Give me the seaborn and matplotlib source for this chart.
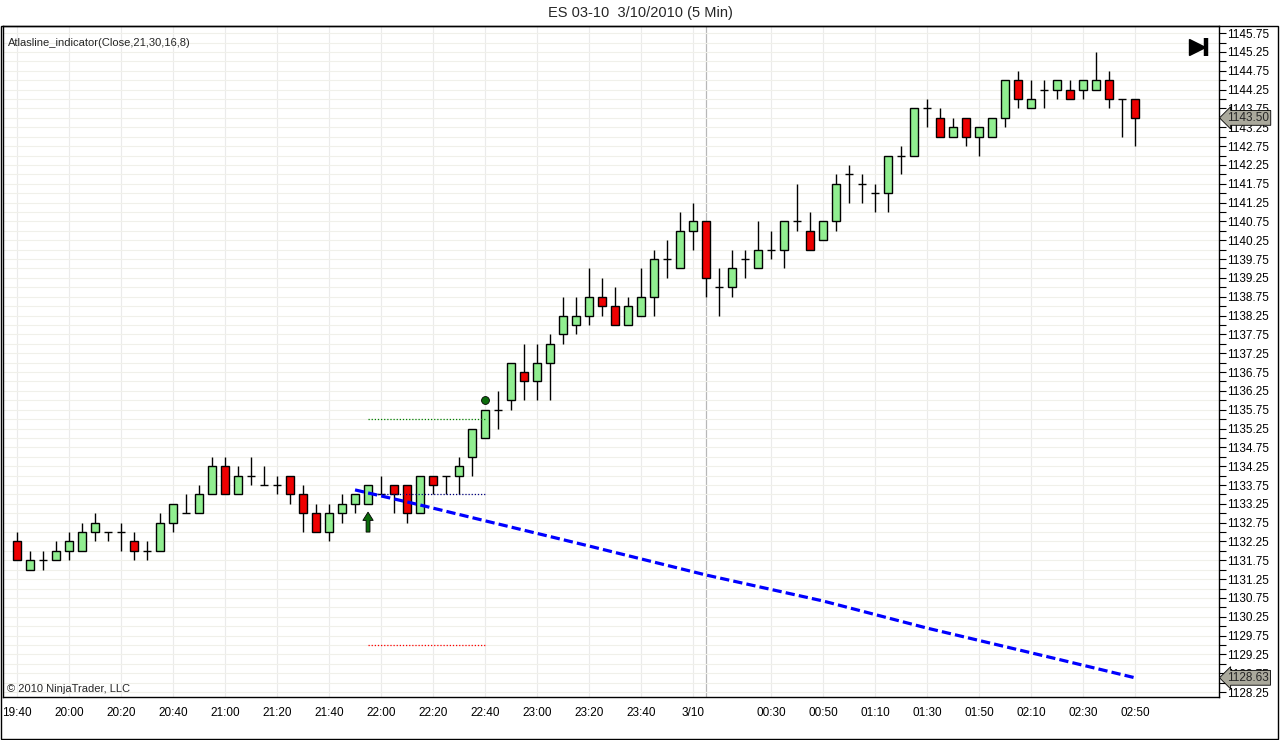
import numpy as np
import pandas as pd
import seaborn as sns
import matplotlib.pyplot as plt
from matplotlib.patches import Rectangle
from matplotlib.ticker import MultipleLocator, FuncFormatter

# 5 min bars, 19:40 -> 02:50
opens = [1132.25, 1131.5, 1131.75, 1131.75, 1132.0, 1132.0, 1132.5, 1132.5, 1132.5, 1132.25,
         1132.0, 1132.0, 1132.75, 1133.0, 1133.0, 1133.5, 1134.25, 1133.5, 1134.0, 1133.75,
         1133.75, 1134.0, 1133.5, 1133.0, 1132.5, 1133.0, 1133.25, 1133.25, 1133.5, 1133.75,
         1133.75, 1133.0, 1134.0, 1134.0, 1134.0, 1134.5, 1135.0, 1135.75, 1136.0, 1136.75,
         1136.5, 1137.0, 1137.75, 1138.0, 1138.25, 1138.75, 1138.5, 1138.0, 1138.25, 1138.75,
         1139.75, 1139.5, 1140.5, 1140.75, 1139.0, 1139.0, 1139.75, 1139.5, 1140.0, 1140.0,
         1140.75, 1140.5, 1140.25, 1140.75, 1142.0, 1141.75, 1141.5, 1141.5, 1142.5, 1142.5,
         1143.75, 1143.5, 1143.0, 1143.5, 1143.0, 1143.0, 1143.5, 1144.5, 1143.75, 1144.25,
         1144.25, 1144.25, 1144.25, 1144.25, 1144.5, 1144.0, 1144.0]
highs = [1132.5, 1132.0, 1132.0, 1132.25, 1132.5, 1132.75, 1133.0, 1132.5, 1132.75, 1132.5,
         1132.25, 1133.0, 1133.25, 1133.5, 1133.75, 1134.5, 1134.5, 1134.25, 1134.5, 1134.25,
         1134.0, 1134.0, 1133.75, 1133.25, 1133.25, 1133.5, 1133.5, 1133.75, 1134.0, 1133.75,
         1133.75, 1134.0, 1134.0, 1134.0, 1134.5, 1135.25, 1135.75, 1136.25, 1137.0, 1137.5,
         1137.5, 1137.75, 1138.75, 1138.75, 1139.5, 1139.25, 1139.0, 1138.75, 1139.5, 1140.0,
         1140.25, 1141.0, 1141.25, 1140.75, 1139.5, 1140.0, 1140.0, 1140.75, 1140.5, 1140.75,
         1141.75, 1141.0, 1140.75, 1142.0, 1142.25, 1142.0, 1141.75, 1142.5, 1142.75, 1143.75,
         1144.0, 1143.75, 1143.5, 1143.5, 1143.25, 1143.5, 1144.5, 1144.75, 1144.5, 1144.5,
         1144.5, 1144.5, 1144.5, 1145.25, 1144.75, 1144.0, 1144.0]
lows = [1131.75, 1131.5, 1131.5, 1131.75, 1131.75, 1132.0, 1132.25, 1132.25, 1132.0, 1131.75,
        1131.75, 1132.0, 1132.5, 1133.0, 1133.0, 1133.5, 1133.5, 1133.5, 1133.75, 1133.75,
        1133.5, 1133.25, 1132.5, 1132.5, 1132.25, 1132.75, 1133.0, 1133.25, 1133.5, 1133.0,
        1132.75, 1133.0, 1133.5, 1133.5, 1133.5, 1134.0, 1135.0, 1135.25, 1135.75, 1136.0,
        1136.0, 1136.0, 1137.5, 1137.75, 1138.0, 1138.25, 1138.0, 1138.0, 1138.25, 1138.25,
        1139.25, 1139.5, 1140.0, 1138.75, 1138.25, 1138.75, 1139.25, 1139.5, 1139.75, 1139.5,
        1140.5, 1140.0, 1140.25, 1140.5, 1141.25, 1141.25, 1141.0, 1141.0, 1142.0, 1142.5,
        1143.25, 1143.0, 1143.0, 1142.75, 1142.5, 1143.0, 1143.25, 1143.75, 1143.75, 1143.75,
        1144.0, 1144.0, 1144.0, 1144.25, 1143.75, 1143.0, 1142.75]
closes = [1131.75, 1131.75, 1131.75, 1132.0, 1132.25, 1132.5, 1132.75, 1132.5, 1132.5, 1132.0,
          1132.0, 1132.75, 1133.25, 1133.0, 1133.5, 1134.25, 1133.5, 1134.0, 1134.0, 1133.75,
          1133.75, 1133.5, 1133.0, 1132.5, 1133.0, 1133.25, 1133.5, 1133.75, 1133.5, 1133.5,
          1133.0, 1134.0, 1133.75, 1134.0, 1134.25, 1135.25, 1135.75, 1135.75, 1137.0, 1136.5,
          1137.0, 1137.5, 1138.25, 1138.25, 1138.75, 1138.5, 1138.0, 1138.5, 1138.75, 1139.75,
          1139.75, 1140.5, 1140.75, 1139.25, 1139.0, 1139.5, 1139.75, 1140.0, 1140.0, 1140.75,
          1140.75, 1140.0, 1140.75, 1141.75, 1142.0, 1141.75, 1141.5, 1142.5, 1142.5, 1143.75,
          1143.75, 1143.0, 1143.25, 1143.0, 1143.25, 1143.5, 1144.5, 1144.0, 1144.0, 1144.25,
          1144.5, 1144.0, 1144.5, 1144.5, 1144.0, 1144.0, 1143.5]

# x axis labels (bar index -> label)
tick_bars = [0, 4, 8, 12, 16, 20, 24, 28, 32, 36, 40, 44, 48, 52, 58, 62, 66, 70, 74, 78, 82, 86]
tick_labels = ["19:40", "20:00", "20:20", "20:40", "21:00", "21:20", "21:40", "22:00", "22:20",
               "22:40", "23:00", "23:20", "23:40", "3/10", "00:30", "00:50", "01:10", "01:30",
               "01:50", "02:10", "02:30", "02:50"]
session_bar = 53

# Atlasline indicator (dashed blue line), read at a few bars
atlas_bars = [26, 31, 36, 44, 53, 62, 70, 80, 86]
atlas_values = [1133.62, 1133.22, 1132.80, 1132.13, 1131.36, 1130.67, 1129.95, 1129.13, 1128.63]

# signal markers / levels
signal_bar = 27
signal_end_bar = 36
target_level = 1135.5
entry_level = 1133.5
stop_level = 1129.5
dot_price = 1136.0
arrow_base, arrow_tip = 1132.5, 1133.03

df = pd.DataFrame({"open": opens, "high": highs, "low": lows, "close": closes})
df["bar"] = np.arange(len(df))

sns.set_style("white")
plt.rcParams["font.family"] = ["Liberation Sans", "DejaVu Sans"]

fig = plt.figure(figsize=(12.8, 7.4), dpi=100)
ax = fig.add_axes([3 / 1280, 43 / 740, 1216 / 1280, 671 / 740])

# grid
ax.set_xlim(-1.08, 92.46)
ax.set_ylim(1128.12, 1145.94)
ax.yaxis.set_major_locator(MultipleLocator(0.5, offset=0.25))
ax.yaxis.set_minor_locator(MultipleLocator(0.25))
ax.yaxis.set_major_formatter(FuncFormatter(lambda v, p: f"{v:.2f}"))
ax.set_xticks(tick_bars)
ax.set_xticklabels(tick_labels)
ax.set_axisbelow(True)
ax.grid(axis="y", which="both", color="#f0f0ea", lw=0.8)
ax.grid(axis="x", which="major", color="#ebebeb", lw=0.8)
ax.axvline(session_bar, color="#b8b8b8", lw=0.9, zorder=0.5)

# candles
w = 0.62
ax.vlines(df["bar"], df["low"], df["high"], color="black", lw=1, zorder=2)
body = df[df["open"] != df["close"]]
fill = np.where(body["close"] > body["open"], "#90ee90", "#ee0000")
ax.bar(body["bar"], (body["close"] - body["open"]).abs(), bottom=body[["open", "close"]].min(axis=1),
       width=w, color=fill, edgecolor="black", lw=1, zorder=3)
doji = df[df["open"] == df["close"]]
ax.hlines(doji["close"], doji["bar"] - w / 2, doji["bar"] + w / 2, color="black", lw=1, zorder=3)

# signal levels
ax.hlines(target_level, signal_bar, signal_end_bar, colors="green", linestyles=(0, (1, 1.5)), lw=0.9, zorder=4)
ax.hlines(entry_level, signal_bar, signal_end_bar, colors="#000080", linestyles=(0, (1, 1.5)), lw=0.9, zorder=4)
ax.hlines(stop_level, signal_bar, signal_end_bar, colors="red", linestyles=(0, (1, 1.5)), lw=0.9, zorder=4)
ax.arrow(signal_bar, arrow_base, 0, arrow_tip - arrow_base, width=0.3, head_width=0.8, head_length=0.22,
         length_includes_head=True, fc="#0b6b0b", ec="black", lw=0.6, zorder=5)
sns.scatterplot(x=[signal_end_bar], y=[dot_price], color="#0b6b0b", edgecolor="black", s=32,
                linewidth=0.6, ax=ax, zorder=5)

# atlasline
sns.lineplot(x=atlas_bars, y=atlas_values, ax=ax, color="#0000ff", lw=2.3, zorder=6)
ax.lines[-1].set_dashes([2.9, 1.3])

# axes styling
ax.yaxis.tick_right()
for s in ax.spines.values():
    s.set_color("black")
    s.set_linewidth(1)
ax.tick_params(axis="y", which="both", direction="out", length=5, width=0.8, colors="black",
               labelsize=8.5, pad=1, right=True, left=False)
ax.tick_params(axis="x", direction="out", length=5, width=0.8, colors="black", labelsize=8.5, pad=2)
ax.set_xlabel("")
ax.set_ylabel("")

# price tags at the right axis
for price, label in [(closes[-1], "1143.50"), (atlas_values[-1], "1128.63")]:
    ax.annotate(label, xy=(1.0, price), xycoords=("axes fraction", "data"), xytext=(6, 0),
                textcoords="offset points", va="center", ha="left", fontsize=8.5, zorder=10,
                bbox=dict(boxstyle="larrow,pad=0.12", fc="#aaa99c", ec="black", lw=0.6),
                annotation_clip=False)

# texts
ax.text(0.004, 0.982, "Atlasline_indicator(Close,21,30,16,8)", transform=ax.transAxes,
        fontsize=8, va="top", ha="left")
ax.text(0.003, 0.004, "\u00a9 2010 NinjaTrader, LLC", transform=ax.transAxes,
        fontsize=8, va="bottom", ha="left")
ax.plot([0.9815], [0.9685], marker=">", ms=12, color="black", transform=ax.transAxes, clip_on=False)
ax.plot([0.9895, 0.9895], [0.955, 0.982], lw=3.2, color="black", transform=ax.transAxes,
        solid_capstyle="butt", clip_on=False)
fig.text(0.5, 1 - 13 / 740, "ES 03-10  3/10/2010 (5 Min)", ha="center", va="center", fontsize=10.5)

# outer frame
fig.add_artist(Rectangle((1 / 1280, 1 / 740), 1277 / 1280, 713 / 740, transform=fig.transFigure,
                         fill=False, ec="black", lw=1))

fig.savefig("out.png", dpi=100)
